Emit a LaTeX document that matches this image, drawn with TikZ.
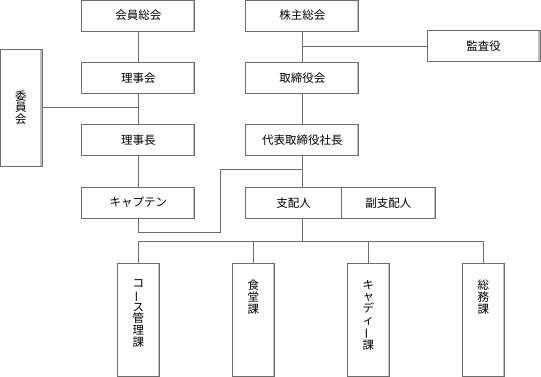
\documentclass[tikz,border=0pt]{standalone}
\usepackage{fontspec}
\usepackage{graphicx}
\setmainfont{Noto Sans CJK JP}
\usetikzlibrary{positioning}

\definecolor{linegray}{HTML}{6E6E6E}
\definecolor{edgegray}{HTML}{BEBEBE}

\tikzset{
  orgbox/.style={draw=linegray,line width=0.9pt,minimum width=113pt,minimum height=31pt,
    inner sep=0pt,font=\fontsize{11.5}{12}\selectfont,
    path picture={\draw[edgegray,line width=1.6pt]
      ([xshift=-0.8pt]path picture bounding box.north east) --
      ([xshift=-0.8pt]path picture bounding box.south east);}},
  plainbox/.style={orgbox,path picture={}},
  deptbox/.style={orgbox,minimum width=42pt,minimum height=113.5pt},
  vtext/.style={anchor=north,align=center,inner sep=0pt,yshift=-17pt,
    font=\fontsize{11.5}{11.7}\selectfont},
  link/.style={draw=linegray,line width=0.9pt}
}
\newcommand{\vbar}{\rotatebox[origin=c]{90}{ー}}

\begin{document}
\begin{tikzpicture}[x=1pt,y=-1pt]
  \useasboundingbox (0,0) rectangle (541,377);

  % members side
  \node[orgbox] (kaiin) at (138.3,15.5) {会員総会};
  \node[orgbox,below=30.5pt of kaiin] (rijikai) {理事会};
  \node[orgbox,below=30.5pt of rijikai] (rijicho) {理事長};
  \node[orgbox,below=30.5pt of rijicho] (captain) {キャプテン};
  \node[orgbox,minimum width=42pt,minimum height=117pt,align=center,
    font=\fontsize{11.5}{11.7}\selectfont] (iinkai) at (21,107.5) {委\\員\\会};

  % company side
  \node[orgbox] (kabunushi) at (302.3,15.5) {株主総会};
  \node[orgbox,below=30.5pt of kabunushi] (torishimari) {取締役会};
  \node[orgbox,below=30.5pt of torishimari] (shacho) {代表取締役社長};
  \node[orgbox] (kansa) at (483.5,46) {監査役};
  \node[plainbox,minimum width=95.6pt,below right=31pt and 0pt of shacho.south west] (shihai) {支配人};
  \node[orgbox,minimum width=93.8pt,right=-0.9pt of shihai] (fuku) {副支配人};

  % sections
  \node[deptbox] (course) at (138.3,320) {};
  \node[vtext] at (course.north) {コ\\\vbar\\ス\\管\\理\\課};
  \node[deptbox] (shokudo) at (253.3,320) {};
  \node[vtext] at (shokudo.north) {食\\堂\\課};
  \node[deptbox] (caddie) at (368.3,320) {};
  \node[vtext] at (caddie.north) {キ\\ャ\\デ\\ィ\\\vbar\\課};
  \node[deptbox] (somu) at (483.3,320) {};
  \node[vtext] at (somu.north) {総\\務\\課};

  \coordinate (kansajct) at (302.3,46);
  \coordinate (captjct) at (302.3,169);
  \coordinate (bend) at (220.8,232.2);
  \coordinate (bus) at (302.3,241.7);

  % connectors
  \draw[link] (kaiin) -- (rijikai);
  \draw[link] (rijikai) -- (rijicho);
  \draw[link] (rijicho) -- (captain);
  \draw[link] (iinkai.east |- 0,107) -- (rijikai.south |- 0,107);
  \draw[link] (kabunushi) -- (torishimari);
  \draw[link] (kansajct) -- (kansa.west);
  \draw[link] (torishimari) -- (shacho);
  \draw[link] (shacho.south) -- (shacho.south |- shihai.north);
  \draw[link] (captain.south) |- (bend) |- (captjct);
  \draw[link] (shacho.south |- shihai.south) -- (bus);
  \draw[link] (course.north) |- (bus) -| (somu.north);
  \draw[link] (shokudo.north) -- (shokudo.north |- bus);
  \draw[link] (caddie.north) -- (caddie.north |- bus);
\end{tikzpicture}
\end{document}
